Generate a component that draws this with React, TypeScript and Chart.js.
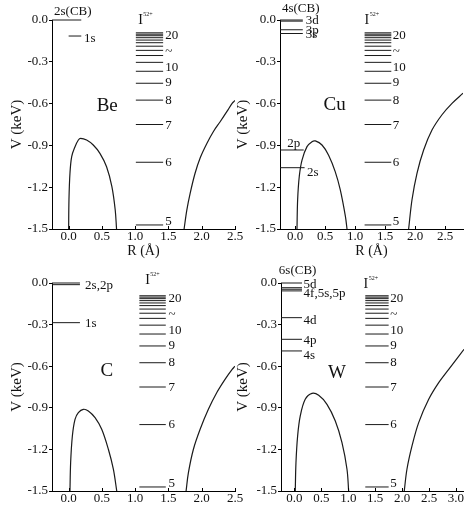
import React, { useEffect, useRef } from "react";
import { Chart, registerables } from "chart.js";
Chart.register(...registerables);

const FONT = "'Liberation Serif', 'Times New Roman', serif";
const INK = "#1a1a1a";

// ---------- shared data ----------
const yTicks = [0, -0.3, -0.6, -0.9, -1.2, -1.5];
const ionLevelV = [-1.471, -1.021, -0.75, -0.575, -0.454, -0.368, -0.304, -0.255, -0.218, -0.188, -0.163, -0.144, -0.127, -0.113, -0.102, -0.092];
const ionLabelText = ["20", "~", "10", "9", "8", "7", "6", "5"];
const ionLabelV = [-0.115, -0.23, -0.345, -0.452, -0.575, -0.755, -1.02, -1.45];
const ionTitle = "I";
const ionTitleSup = "52+";

// ---------- Be ----------
const beX = [-0.25, 2.5];
const beXTicks = [0, 0.5, 1, 1.5, 2, 2.5];
const beLeftR = [0.0, 0.005, 0.02, 0.046, 0.096, 0.146, 0.18, 0.27, 0.37, 0.47, 0.57, 0.65, 0.7, 0.72];
const beLeftV = [-1.5, -1.29, -1.1, -0.98, -0.909, -0.861, -0.849, -0.861, -0.897, -0.957, -1.053, -1.196, -1.364, -1.5];
const beRightR = [1.735, 1.776, 1.826, 1.9, 1.976, 2.077, 2.176, 2.277, 2.377, 2.457, 2.5];
const beRightV = [-1.5, -1.364, -1.244, -1.1, -0.99, -0.886, -0.8, -0.73, -0.658, -0.598, -0.578];
const beLevelV = [0, -0.115];
const beLevelR1 = [-0.25, 0.0];
const beLevelR2 = [0.19, 0.19];
const beLabelText = ["2s(CB)", "1s"];
const beLabelR = [-0.22, 0.23];
const beLabelV = [0.057, -0.13];
const beIonR = [1.01, 1.42];
const beIonLabelR = 1.45;
const beIonTitlePos = [1.045, 0.0];
const beName = "Be";
const beNamePos = [0.58, -0.617];

// ---------- Cu ----------
const cuX = [-0.25, 2.8];
const cuXTicks = [0, 0.5, 1, 1.5, 2, 2.5];
const cuLeftR = [0.033, 0.044, 0.072, 0.117, 0.2, 0.283, 0.339, 0.45, 0.56, 0.67, 0.755, 0.84, 0.867];
const cuLeftV = [-1.5, -1.29, -1.12, -1.005, -0.909, -0.873, -0.868, -0.897, -0.97, -1.088, -1.22, -1.41, -1.5];
const cuRightR = [1.894, 1.95, 2.033, 2.144, 2.283, 2.45, 2.617, 2.8];
const cuRightV = [-1.5, -1.29, -1.1, -0.933, -0.79, -0.68, -0.598, -0.526];
const cuLevelV = [0, -0.008, -0.07, -0.097, -0.933, -1.06];
const cuLevelR1 = [-0.25, -0.25, -0.25, -0.25, -0.25, -0.25];
const cuLevelR2 = [0.13, 0.13, 0.13, 0.13, 0.145, 0.16];
const cuLabelText = ["4s(CB)", "3d", "3p", "3s", "2p", "2s"];
const cuLabelR = [-0.217, 0.18, 0.18, 0.18, -0.13, 0.2];
const cuLabelV = [0.083, -0.007, -0.078, -0.106, -0.89, -1.094];
const cuIonR = [1.16, 1.605];
const cuIonLabelR = 1.63;
const cuIonTitlePos = [1.16, 0.0];
const cuName = "Cu";
const cuNamePos = [0.66, -0.61];

// ---------- C ----------
const cX = [-0.25, 2.5];
const cXTicks = [0, 0.5, 1, 1.5, 2, 2.5];
const cLeftR = [0.02, 0.03, 0.056, 0.096, 0.146, 0.221, 0.296, 0.397, 0.497, 0.597, 0.672, 0.723];
const cLeftV = [-1.5, -1.296, -1.103, -0.983, -0.935, -0.911, -0.923, -0.971, -1.055, -1.199, -1.343, -1.5];
const cRightR = [1.765, 1.8, 1.875, 1.976, 2.1, 2.227, 2.35, 2.457, 2.5];
const cRightV = [-1.5, -1.368, -1.199, -1.055, -0.911, -0.79, -0.695, -0.623, -0.6];
const cLevelV = [0, -0.012, -0.286];
const cLevelR1 = [-0.25, -0.25, -0.25];
const cLevelR2 = [0.17, 0.17, 0.17];
const cLabelText = ["2s,2p", "1s"];
const cLabelR = [0.247, 0.247];
const cLabelV = [-0.017, -0.29];
const cIonR = [1.063, 1.46];
const cIonLabelR = 1.5;
const cIonTitlePos = [1.15, 0.022];
const cName = "C";
const cNamePos = [0.573, -0.637];

// ---------- W ----------
const wX = [-0.25, 3.15];
const wXTicks = [0, 0.5, 1, 1.5, 2, 2.5, 3];
const wLeftR = [0.015, 0.028, 0.059, 0.108, 0.2, 0.325, 0.45, 0.604, 0.759, 0.883, 0.976, 1.007];
const wLeftV = [-1.5, -1.296, -1.103, -0.959, -0.839, -0.796, -0.81, -0.875, -0.995, -1.151, -1.343, -1.5];
const wRightR = [2.04, 2.09, 2.184, 2.308, 2.494, 2.68, 2.866, 3.15];
const wRightV = [-1.5, -1.343, -1.175, -1.007, -0.839, -0.719, -0.623, -0.478];
const wLevelV = [0, -0.034, -0.045, -0.057, -0.25, -0.406, -0.49];
const wLevelR1 = [-0.25, -0.25, -0.25, -0.25, -0.25, -0.25, -0.25];
const wLevelR2 = [0.14, 0.14, 0.14, 0.14, 0.14, 0.14, 0.14];
const wLabelText = ["6s(CB)", "5d", "4f,5s,5p", "4d", "4p", "4s"];
const wLabelR = [-0.29, 0.17, 0.17, 0.17, 0.17, 0.17];
const wLabelV = [0.087, -0.01, -0.074, -0.274, -0.418, -0.526];
const wIonR = [1.316, 1.75];
const wIonLabelR = 1.78;
const wIonTitlePos = [1.285, -0.007];
const wName = "W";
const wNamePos = [0.79, -0.647];

type Panel = {
  xRange: number[]; xTicks: number[];
  leftR: number[]; leftV: number[]; rightR: number[]; rightV: number[];
  levelV: number[]; levelR1: number[]; levelR2: number[];
  labelText: string[]; labelR: number[]; labelV: number[];
  ionR: number[]; ionLabelR: number; ionTitlePos: number[];
  name: string; namePos: number[];
};

const panels: Panel[] = [
  { xRange: beX, xTicks: beXTicks, leftR: beLeftR, leftV: beLeftV, rightR: beRightR, rightV: beRightV, levelV: beLevelV, levelR1: beLevelR1, levelR2: beLevelR2, labelText: beLabelText, labelR: beLabelR, labelV: beLabelV, ionR: beIonR, ionLabelR: beIonLabelR, ionTitlePos: beIonTitlePos, name: beName, namePos: beNamePos },
  { xRange: cuX, xTicks: cuXTicks, leftR: cuLeftR, leftV: cuLeftV, rightR: cuRightR, rightV: cuRightV, levelV: cuLevelV, levelR1: cuLevelR1, levelR2: cuLevelR2, labelText: cuLabelText, labelR: cuLabelR, labelV: cuLabelV, ionR: cuIonR, ionLabelR: cuIonLabelR, ionTitlePos: cuIonTitlePos, name: cuName, namePos: cuNamePos },
  { xRange: cX, xTicks: cXTicks, leftR: cLeftR, leftV: cLeftV, rightR: cRightR, rightV: cRightV, levelV: cLevelV, levelR1: cLevelR1, levelR2: cLevelR2, labelText: cLabelText, labelR: cLabelR, labelV: cLabelV, ionR: cIonR, ionLabelR: cIonLabelR, ionTitlePos: cIonTitlePos, name: cName, namePos: cNamePos },
  { xRange: wX, xTicks: wXTicks, leftR: wLeftR, leftV: wLeftV, rightR: wRightR, rightV: wRightV, levelV: wLevelV, levelR1: wLevelR1, levelR2: wLevelR2, labelText: wLabelText, labelR: wLabelR, labelV: wLabelV, ionR: wIonR, ionLabelR: wIonLabelR, ionTitlePos: wIonTitlePos, name: wName, namePos: wNamePos },
];

// layout boxes (page pixels)
const boxes = [
  { left: 0, top: 0, w: 250, h: 262, padT: 20, padR: 15, yW: 52, xH: 33, yTitlePad: 8, xTitle: true },
  { left: 232, top: 0, w: 232, h: 262, padT: 20, padR: 1, yW: 48, xH: 33, yTitlePad: 2, xTitle: true },
  { left: 0, top: 256, w: 250, h: 256, padT: 27, padR: 15, yW: 52, xH: 21, yTitlePad: 8, xTitle: false },
  { left: 232, top: 256, w: 232, h: 256, padT: 27, padR: 0, yW: 49, xH: 21, yTitlePad: 2, xTitle: false },
];

function zip(r: number[], v: number[]) {
  return r.map((x, i) => ({ x, y: v[i] }));
}

function levelPoints(p: Panel) {
  const pts: any[] = [];
  p.levelV.forEach((v, i) => {
    pts.push({ x: p.levelR1[i], y: v }, { x: p.levelR2[i], y: v }, { x: p.levelR2[i], y: null });
  });
  ionLevelV.forEach((v) => {
    pts.push({ x: p.ionR[0], y: v }, { x: p.ionR[1], y: v }, { x: p.ionR[1], y: null });
  });
  return pts;
}

function makeAnnot(p: Panel) {
  return {
    id: "annot",
    afterDatasetsDraw(chart: any) {
      const { ctx, chartArea } = chart;
      const xs = chart.scales.x;
      const ys = chart.scales.y;
      const X = (v: number) => xs.getPixelForValue(v);
      const Y = (v: number) => ys.getPixelForValue(v);
      ctx.save();
      ctx.fillStyle = "#111";
      ctx.textBaseline = "middle";
      ctx.textAlign = "left";
      ctx.font = `13px ${FONT}`;
      p.labelText.forEach((t, i) => ctx.fillText(t, X(p.labelR[i]), Y(p.labelV[i])));
      ionLabelText.forEach((t, i) => ctx.fillText(t, X(p.ionLabelR), Y(ionLabelV[i])));
      // I^52+
      ctx.font = `14px ${FONT}`;
      const ix = X(p.ionTitlePos[0]);
      const iy = Y(p.ionTitlePos[1]);
      ctx.fillText(ionTitle, ix, iy);
      const iw = ctx.measureText(ionTitle).width;
      ctx.font = `6px ${FONT}`;
      ctx.fillText(ionTitleSup, ix + iw + 0.5, iy - 6);
      // element name
      ctx.font = `19px ${FONT}`;
      ctx.textAlign = "center";
      ctx.fillText(p.name, X(p.namePos[0]), Y(p.namePos[1]));
      // inward x ticks
      ctx.strokeStyle = "#000";
      ctx.lineWidth = 1;
      xs.ticks.forEach((t: any) => {
        const px = Math.round(X(t.value)) + 0.5;
        ctx.beginPath();
        ctx.moveTo(px, chartArea.bottom);
        ctx.lineTo(px, chartArea.bottom - 3);
        ctx.stroke();
      });
      ctx.restore();
    },
  };
}

function config(p: Panel, b: any): any {
  return {
    type: "line",
    data: {
      datasets: [
        { data: zip(p.leftR, p.leftV), borderColor: INK, borderWidth: 1.2, pointRadius: 0, tension: 0.35 },
        { data: zip(p.rightR, p.rightV), borderColor: INK, borderWidth: 1.2, pointRadius: 0, tension: 0.35 },
        { data: levelPoints(p), borderColor: INK, borderWidth: 1, pointRadius: 0, tension: 0, spanGaps: false, clip: 4 },
      ],
    },
    options: {
      animation: false,
      responsive: false,
      maintainAspectRatio: false,
      devicePixelRatio: 1,
      events: [],
      layout: { padding: { left: 0, top: b.padT, right: b.padR, bottom: 0 } },
      plugins: { legend: { display: false }, tooltip: { enabled: false } },
      scales: {
        x: {
          type: "linear",
          min: p.xRange[0],
          max: p.xRange[1],
          afterBuildTicks: (s: any) => { s.ticks = p.xTicks.map((v) => ({ value: v })); },
          afterFit: (s: any) => { s.height = b.xH; s.paddingLeft = 0; s.paddingRight = 0; },
          grid: { display: false, drawTicks: false },
          border: { display: true, color: "#000", width: 1 },
          ticks: { color: "#111", padding: 0, font: { family: FONT, size: 13 }, maxRotation: 0, callback: (v: number) => v.toFixed(1) },
          title: { display: b.xTitle, text: "R (Å)", color: "#111", font: { family: FONT, size: 14 }, padding: { top: 0, bottom: 2 } },
        },
        y: {
          type: "linear",
          min: -1.5,
          max: 0,
          afterBuildTicks: (s: any) => { s.ticks = yTicks.map((v) => ({ value: v })); },
          afterFit: (s: any) => { s.width = b.yW; s.paddingTop = 0; s.paddingBottom = 0; },
          grid: { display: true, drawOnChartArea: false, drawTicks: true, tickLength: 3, color: "#000" },
          border: { display: true, color: "#000", width: 1 },
          ticks: { color: "#111", padding: 1, font: { family: FONT, size: 13 }, callback: (v: number) => v.toFixed(1) },
          title: { display: true, text: "V (keV)", color: "#111", font: { family: FONT, size: 15 }, padding: { top: b.yTitlePad, bottom: 0 } },
        },
      },
    },
    plugins: [makeAnnot(p)],
  };
}

function PanelChart({ p, b }: { p: Panel; b: any }) {
  const ref = useRef<HTMLCanvasElement>(null);
  useEffect(() => {
    const chart = new Chart(ref.current as HTMLCanvasElement, config(p, b));
    return () => chart.destroy();
  }, []);
  return (
    <canvas
      ref={ref}
      width={b.w}
      height={b.h}
      style={{ position: "absolute", left: b.left, top: b.top, width: b.w, height: b.h, display: "block" }}
    />
  );
}

export default function App() {
  return (
    <div style={{ position: "absolute", left: 0, top: 0, width: 464, height: 512, overflow: "hidden", background: "#fff" }}>
      {panels.map((p, i) => (
        <PanelChart key={i} p={p} b={boxes[i]} />
      ))}
    </div>
  );
}
